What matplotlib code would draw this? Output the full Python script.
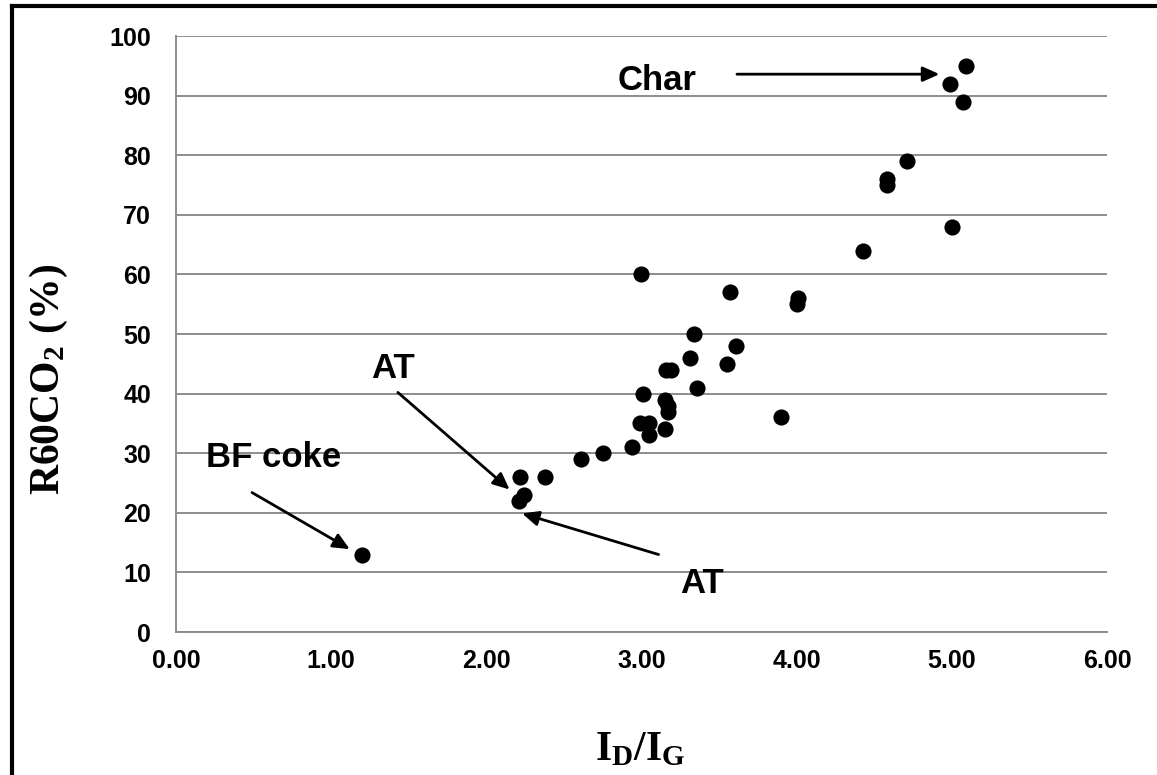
import matplotlib
matplotlib.use("Agg")
import matplotlib.pyplot as plt
from matplotlib.lines import Line2D

# I_D/I_G ratio vs R60CO2 (%)
id_ig = [1.20, 2.21, 2.24, 2.22, 2.38, 2.61, 2.75, 2.94, 3.05, 2.99,
         3.05, 3.15, 3.17, 3.17, 3.15, 3.01, 3.36, 3.16, 3.19, 3.55,
         3.31, 3.61, 3.34, 3.00, 3.57, 3.90, 4.00, 4.01, 4.43, 4.58,
         4.58, 4.71, 5.00, 4.99, 5.07, 5.09]
r60co2 = [13, 22, 23, 26, 26, 29, 30, 31, 33, 35,
          35, 34, 37, 38, 39, 40, 41, 44, 44, 45,
          46, 48, 50, 60, 57, 36, 55, 56, 64, 75,
          76, 79, 68, 92, 89, 95]

# annotations: text, text position, arrow start, arrow tip
labels = ["Char", "AT", "BF coke", "AT"]
label_xy = [(3.10, 92.6), (1.40, 44.2), (0.63, 29.3), (3.39, 8.1)]
arrow_from = [(3.615, 93.6), (1.43, 40.2), (0.49, 23.4), (3.11, 13.0)]
arrow_to = [(4.92, 93.6), (2.15, 23.9), (1.12, 13.9), (2.23, 19.9)]

y_ticks = list(range(0, 101, 10))
x_ticks = [0, 1, 2, 3, 4, 5, 6]

plt.rcParams["mathtext.fontset"] = "custom"
plt.rcParams["mathtext.rm"] = "Liberation Serif:bold"
plt.rcParams["mathtext.it"] = "Liberation Serif:bold"
plt.rcParams["mathtext.bf"] = "Liberation Serif:bold"

fig = plt.figure(figsize=(11.57, 7.75), dpi=100)
ax = fig.add_axes([0.1521, 0.1845, 0.8047, 0.769])

grid_col = "#8c8c8c"
ax.scatter(id_ig, r60co2, s=135, color="black", zorder=3, linewidths=0)

ax.set_xlim(0, 6)
ax.set_ylim(0, 100)
ax.set_xticks(x_ticks)
ax.set_yticks(y_ticks)
ax.set_xticklabels(["%.2f" % v for v in x_ticks])
ax.set_yticklabels([str(v) for v in y_ticks])
ax.yaxis.grid(True, color=grid_col, linewidth=1.4)
ax.set_axisbelow(True)
for side in ["top", "right"]:
    ax.spines[side].set_visible(False)
for side in ["left", "bottom"]:
    ax.spines[side].set_color(grid_col)
    ax.spines[side].set_linewidth(1.4)
ax.tick_params(axis="both", length=0, labelsize=18)
ax.tick_params(axis="y", pad=18)
ax.tick_params(axis="x", pad=12)
for lab in ax.get_xticklabels() + ax.get_yticklabels():
    lab.set_fontfamily("Liberation Sans")
    lab.set_fontweight("bold")

for txt, pos, p0, p1 in zip(labels, label_xy, arrow_from, arrow_to):
    ax.text(pos[0], pos[1], txt, ha="center", va="center", fontsize=25,
            fontweight="bold", family="Liberation Sans")
    ax.annotate("", xy=p1, xytext=p0,
                arrowprops=dict(arrowstyle="-|>,head_length=1.0,head_width=0.45",
                                color="black", lw=2.0, shrinkA=0, shrinkB=0))

fig.text(0.0424, 0.51, r"$\mathrm{R60CO_2\ (\%)}$", rotation=90,
         ha="center", va="center", fontsize=30)
fig.text(0.553, 0.035, r"$\mathrm{I_D/I_G}$", ha="center", va="center",
         fontsize=30)

# outer frame (left and top edges visible)
fig.add_artist(Line2D([0.0108, 0.0108], [0, 0.9923], color="black",
                      lw=3, transform=fig.transFigure))
fig.add_artist(Line2D([0.0108, 1.0], [0.9923, 0.9923], color="black",
                      lw=3, transform=fig.transFigure))

fig.savefig("out.png", dpi=100)
